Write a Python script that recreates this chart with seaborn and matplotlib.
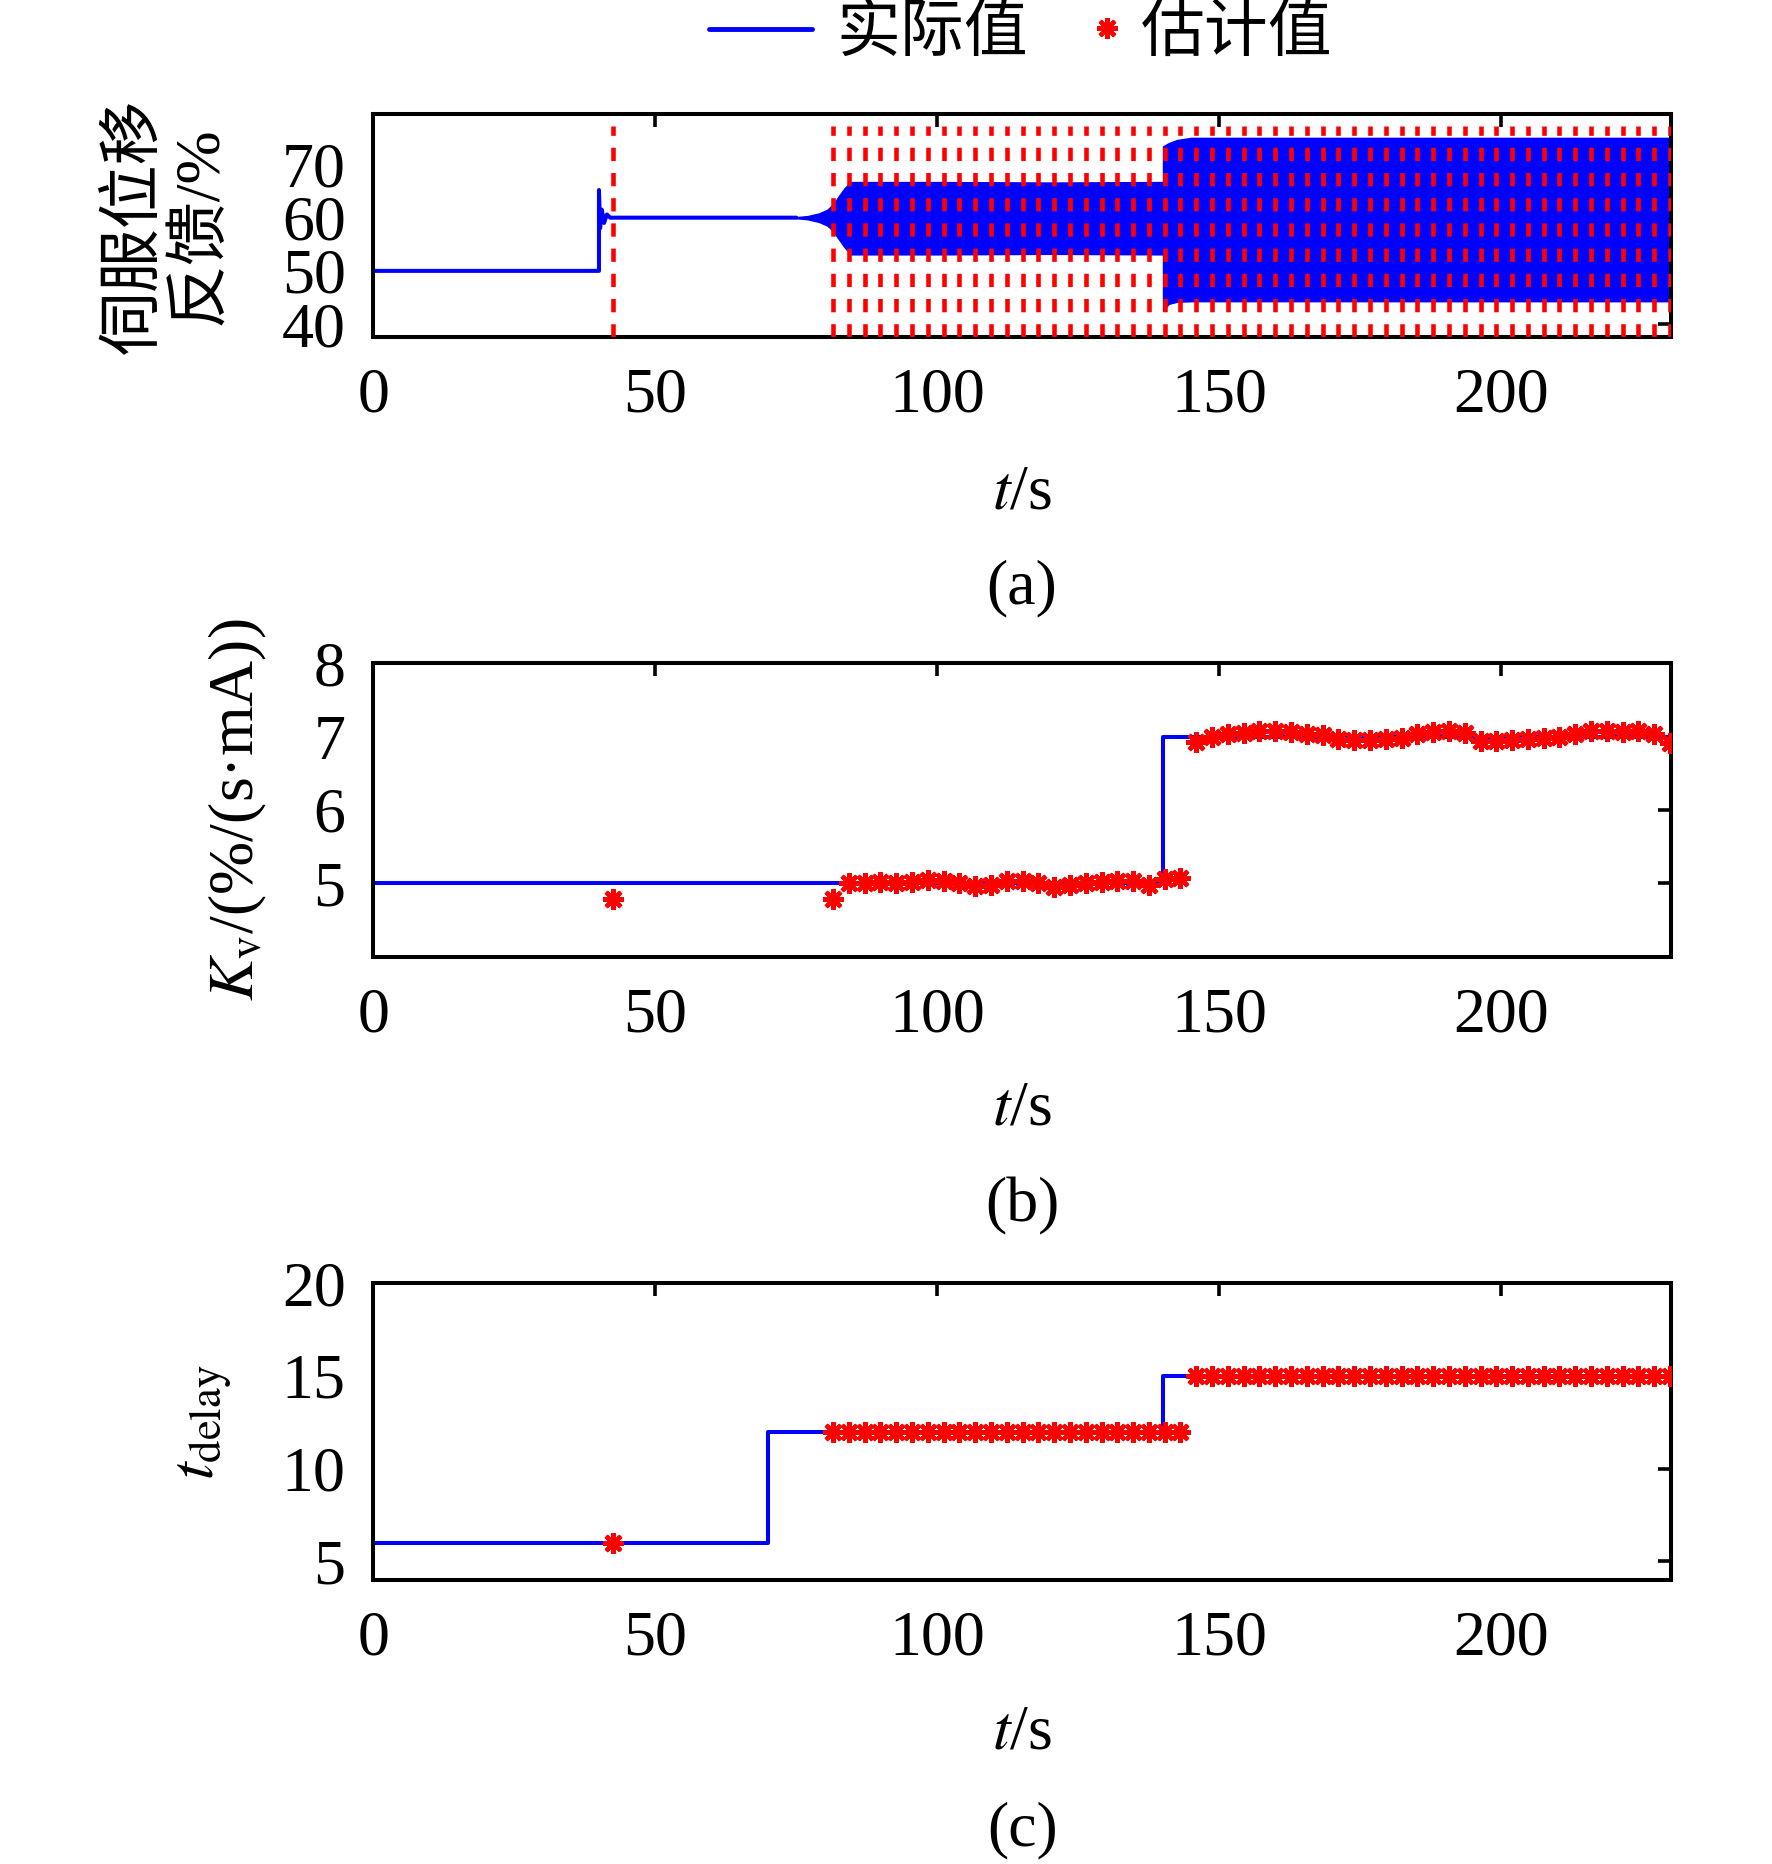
import matplotlib
matplotlib.use("Agg")
import matplotlib.pyplot as plt
from matplotlib.lines import Line2D
import seaborn as sns

# times at which an estimate was produced (s)
est_t = [42.5, 81.5, 84.3, 87.1, 89.9, 92.7, 95.5, 98.3, 101.1, 103.9, 106.7,
         109.5, 112.3, 115.1, 117.9, 120.7, 123.5, 126.3, 129.1, 131.9, 134.7,
         137.5, 140.3, 143.1, 145.9, 148.7, 151.5, 154.3, 157.1, 159.9, 162.7,
         165.5, 168.3, 171.1, 173.9, 176.7, 179.5, 182.3, 185.1, 187.9, 190.7,
         193.5, 196.3, 199.1, 201.9, 204.7, 207.5, 210.3, 213.1, 215.9, 218.7,
         221.5, 224.3, 227.1, 229.9]

# estimated Kv
kv_est = [4.78, 4.78, 5.01, 5.01, 5.02, 5.01, 5.02, 5.04, 5.03, 5.00, 4.96,
          4.98, 5.03, 5.03, 5.00, 4.95, 4.97, 5.01, 5.02, 5.03, 5.03,
          4.97, 5.06, 5.07, 6.92, 7.00, 7.03, 7.05, 7.07, 7.08, 7.06,
          7.04, 7.02, 6.96, 6.95, 6.95, 6.96, 6.98, 7.03, 7.06, 7.07,
          7.05, 6.94, 6.94, 6.95, 6.96, 6.98, 7.00, 7.04, 7.07, 7.08,
          7.06, 7.07, 7.04, 6.91]

# estimated delay
delay_est = [6, 12, 12, 12, 12, 12, 12, 12, 12, 12, 12,
             12, 12, 12, 12, 12, 12, 12, 12, 12, 12,
             12, 12, 12, 15, 15, 15, 15, 15, 15, 15,
             15, 15, 15, 15, 15, 15, 15, 15, 15, 15,
             15, 15, 15, 15, 15, 15, 15, 15, 15, 15,
             15, 15, 15, 15]

# actual Kv and delay (step changes)
kv_t = [0, 140, 230.1]
kv_v = [5, 7, 7]
delay_t = [0, 70, 140, 230.1]
delay_v = [6, 12, 15, 15]

# servo feedback before the oscillation starts
fb_t = [0, 40, 40, 40.2, 40.5, 40.9, 41.4, 42, 75]
fb_v = [50, 50, 65.2, 58.0, 61.5, 59.0, 60.6, 60, 60]

# envelope of the oscillating servo feedback
band_t = [75, 77, 79, 80.5, 81.5, 82.5, 83.5, 84.6, 100, 120, 140, 140, 141,
          142.5, 145, 230.1]
band_hi = [60.1, 60.3, 60.8, 61.5, 62.5, 64.0, 65.5, 66.7, 66.7, 66.6, 66.7,
           73.4, 74.0, 74.6, 75.0, 75.0]
band_lo = [59.9, 59.7, 59.2, 58.5, 57.5, 56.0, 54.5, 53.1, 53.1, 53.2, 53.1,
           42.5, 43.8, 44.2, 44.3, 44.3]

sns.set_style("white")
plt.rcParams['font.family'] = ['Liberation Serif', 'Noto Sans CJK SC', 'DejaVu Sans']
plt.rcParams['mathtext.fontset'] = 'stix'
plt.rcParams['font.size'] = 46
plt.rcParams.update({'text.color': 'black', 'axes.labelcolor': 'black',
                     'xtick.color': 'black', 'ytick.color': 'black'})

star = (8, 2, 0)
blue_lw = 2.9

fig = plt.figure(figsize=(17.72, 18.64), dpi=100)
ax_a = fig.add_axes([0.2107, 0.8190, 0.7324, 0.1196])
ax_b = fig.add_axes([0.2107, 0.4868, 0.7324, 0.1574])
ax_c = fig.add_axes([0.2107, 0.1524, 0.7324, 0.1592])

# (a) servo feedback
sns.lineplot(x=fb_t, y=fb_v, ax=ax_a, color='blue', lw=blue_lw,
             estimator=None, sort=False)
ax_a.fill_between(band_t, band_lo, band_hi, color='blue', lw=1)
ax_a.vlines(est_t, 37.5, 77.3, colors='red', linestyles=(0, (2.9, 2.6)),
            lw=3.3, zorder=3)
ax_a.set_ylim(37.5, 79.4)
ax_a.set_yticks([40, 50, 60, 70])
ax_a.set_ylabel('伺服位移\n反馈/%', va='center', ha='center',
                multialignment='center', linespacing=1.15)
ax_a.yaxis.set_label_coords(-0.1577, 0.5)

# (b) Kv
sns.lineplot(x=kv_t, y=kv_v, ax=ax_b, color='blue', lw=blue_lw,
             drawstyle='steps-post', estimator=None, sort=False)
sns.lineplot(x=est_t, y=kv_est, ax=ax_b, color='red', linestyle='',
             marker=star, markersize=15, mew=3, mec='red',
             estimator=None, sort=False, zorder=3)
ax_b.set_ylim(4, 8)
ax_b.set_yticks([5, 6, 7, 8])
ax_b.set_ylabel('$K_{\\mathrm{v}}$/(%/(s·mA))', va='center', ha='center')
ax_b.yaxis.set_label_coords(-0.1046, 0.5)

# (c) delay
sns.lineplot(x=delay_t, y=delay_v, ax=ax_c, color='blue', lw=blue_lw,
             drawstyle='steps-post', estimator=None, sort=False)
sns.lineplot(x=est_t, y=delay_est, ax=ax_c, color='red', linestyle='',
             marker=star, markersize=15, mew=3, mec='red',
             estimator=None, sort=False, zorder=3)
ax_c.set_ylim(4, 20)
ax_c.set_yticks([5, 10, 15, 20])
ax_c.set_ylabel('$t_{\\mathrm{delay}}$', va='center', ha='center')
ax_c.yaxis.set_label_coords(-0.130, 0.53)

xlabel_y = {ax_a: -0.767, ax_b: -0.5736, ax_c: -0.567}
for ax in (ax_a, ax_b, ax_c):
    ax.set_xlim(0, 230.1)
    ax.set_xticks([0, 50, 100, 150, 200])
    ax.set_xlabel('$t$/s', va='baseline')
    ax.xaxis.set_label_coords(0.5, xlabel_y[ax])
    ax.tick_params(direction='in', length=9.6, width=2.6, top=True,
                   right=True, labelsize=46)
    ax.tick_params(axis='x', pad=22)
    ax.tick_params(axis='y', pad=20)
    for s in ax.spines.values():
        s.set_visible(True)
        s.set_linewidth(2.9)
        s.set_color('black')

for txt, y in [('(a)', 0.676), ('(b)', 0.3446), ('(c)', 0.0102)]:
    fig.text(0.5768, y, txt, ha='center', va='baseline', fontsize=46)

h_line = Line2D([], [], color='blue', lw=3.5)
h_star = Line2D([], [], color='red', marker=star, linestyle='',
                markersize=15, mew=3)
fig.legend([h_line], ['实际值'], loc='center right',
           bbox_to_anchor=(0.580, 0.981), frameon=False, handlelength=1.62,
           handletextpad=0.37, borderpad=0, borderaxespad=0, fontsize=46)
fig.legend([h_star], ['估计值'], loc='center left',
           bbox_to_anchor=(0.614, 0.981), frameon=False, handlelength=0.6,
           handletextpad=0.23, borderpad=0, borderaxespad=0, fontsize=46)

fig.savefig('out.png', dpi=100)
